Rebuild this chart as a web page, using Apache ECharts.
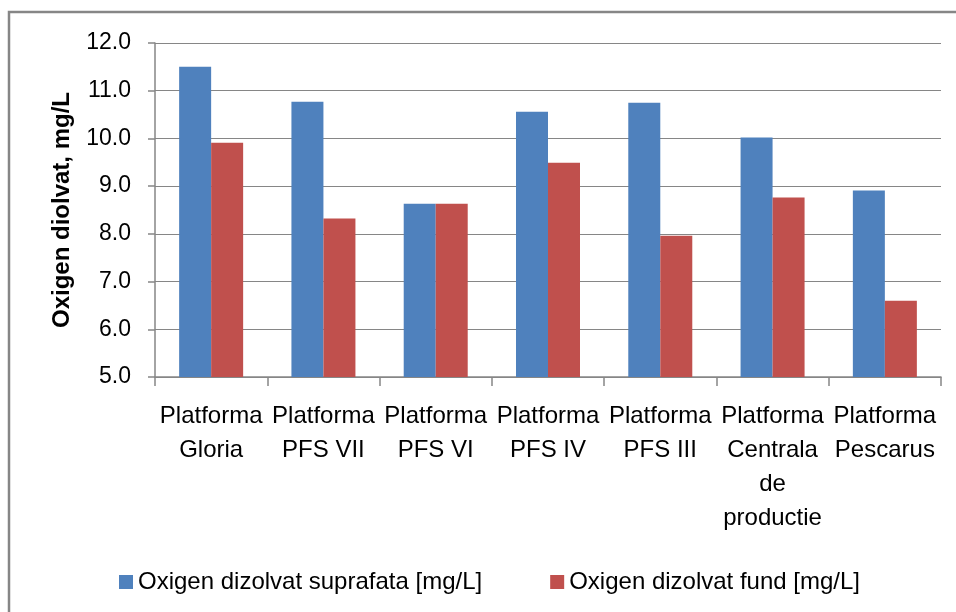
<!DOCTYPE html>
<html>
<head>
<meta charset="utf-8">
<script src="https://cdn.jsdelivr.net/npm/echarts@6/dist/echarts.min.js"></script>
<style>html,body{margin:0;padding:0;background:#fff;}#c{width:956px;height:612px;}</style>
</head>
<body>
<div id="c"></div>
<script>
const categories = [
  "Platforma\nGloria",
  "Platforma\nPFS VII",
  "Platforma\nPFS VI",
  "Platforma\nPFS IV",
  "Platforma\nPFS III",
  "Platforma\nCentrala\nde\nproductie",
  "Platforma\nPescarus"
];
const seriesNames = ["Oxigen dizolvat suprafata [mg/L]", "Oxigen dizolvat fund [mg/L]"];
const suprafata = [11.50, 10.77, 8.63, 10.56, 10.75, 10.02, 8.91];
const fund = [9.91, 8.32, 8.63, 9.49, 7.96, 8.76, 6.60];
const yTicks = { min: 5, max: 12, interval: 1 };
const yTitle = "Oxigen diolvat, mg/L";

const gridColor = "#868686";
const chart = echarts.init(document.getElementById("c"), null, { renderer: "canvas" });
chart.setOption({
  animation: false,
  backgroundColor: "#fff",
  graphic: [{
    type: "rect",
    shape: { x: 9, y: 12, width: 960, height: 620 },
    style: { fill: "none", stroke: gridColor, lineWidth: 2.5 },
    silent: true
  }],
  grid: { left: 155, right: 15, top: 43, bottom: 235, containLabel: false },
  legend: {
    left: 114, top: 564,
    itemWidth: 14, itemHeight: 14, itemGap: 68,
    icon: "rect",
    textStyle: { fontFamily: "Liberation Sans", fontSize: 24, color: "#000", lineHeight: 26 },
    data: seriesNames
  },
  xAxis: {
    type: "category",
    data: categories,
    axisLine: { lineStyle: { color: gridColor, width: 1.5 } },
    axisTick: { show: true, length: 9, inside: false, alignWithLabel: false, lineStyle: { color: gridColor, width: 1.5 } },
    axisLabel: { interval: 0, margin: 22, fontFamily: "Liberation Sans", fontSize: 24, color: "#000", lineHeight: 34 }
  },
  yAxis: {
    type: "value",
    min: yTicks.min, max: yTicks.max, interval: yTicks.interval,
    name: yTitle,
    nameLocation: "middle",
    nameRotate: 90,
    nameGap: 81,
    nameTextStyle: { fontFamily: "Liberation Sans", fontSize: 24, fontWeight: "bold", color: "#000" },
    axisLine: { show: true, lineStyle: { color: gridColor, width: 1.5 } },
    axisTick: { show: true, length: 7, lineStyle: { color: gridColor, width: 1.5 } },
    splitLine: { show: true, lineStyle: { color: gridColor, width: 1.2 } },
    axisLabel: { margin: 24, fontFamily: "Liberation Sans", fontSize: 23, color: "#000", formatter: v => v.toFixed(1) }
  },
  series: [
    { name: seriesNames[0], type: "bar", data: suprafata, barGap: "0%", barCategoryGap: "43%", itemStyle: { color: "#4F81BD" } },
    { name: seriesNames[1], type: "bar", data: fund, barGap: "0%", barCategoryGap: "43%", itemStyle: { color: "#C0504D" } }
  ]
});
</script>
</body>
</html>
